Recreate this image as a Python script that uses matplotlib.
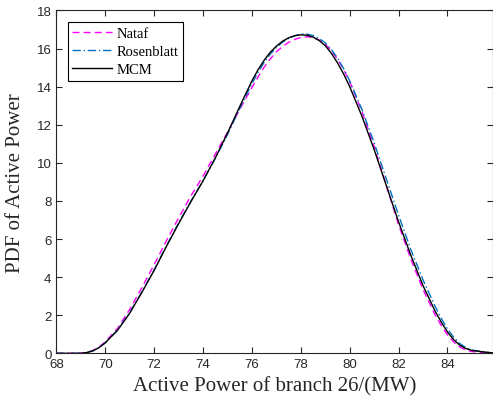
import matplotlib
matplotlib.use("Agg")
from matplotlib import pyplot as plt

# values
power_mw = [68.0, 68.5, 69.0, 69.25, 69.5, 69.75, 70.0, 70.5, 71.0, 71.5, 72.0, 72.5,
            73.0, 73.5, 74.0, 74.5, 75.0, 75.5, 76.0, 76.25, 76.5, 76.75, 77.0, 77.25,
            77.5, 77.75, 78.0, 78.25, 78.5, 78.75, 79.0, 79.25, 79.5, 79.75, 80.0, 80.5,
            81.0, 81.5, 82.0, 82.5, 83.0, 83.5, 83.75, 84.0, 84.25, 84.5, 84.75, 85.0,
            85.5, 85.85]

pdf_nataf = [0.0, 0.0, 0.01, 0.05, 0.15, 0.33, 0.6, 1.3, 2.3, 3.45, 4.65, 5.9,
             7.1, 8.25, 9.3, 10.45, 11.6, 12.8, 13.95, 14.5, 15.02, 15.45, 15.82, 16.1,
             16.32, 16.48, 16.58, 16.62, 16.58, 16.45, 16.22, 15.88, 15.45, 14.9, 14.25, 12.7,
             10.85, 8.8, 6.75, 4.95, 3.35, 2.0, 1.45, 0.97, 0.6, 0.33, 0.17, 0.09,
             0.04, 0.01]

pdf_rosenblatt = [0.0, 0.0, 0.0, 0.04, 0.13, 0.3, 0.55, 1.22, 2.13, 3.22, 4.38, 5.63,
                  6.83, 7.97, 9.05, 10.22, 11.48, 12.85, 14.15, 14.75, 15.27, 15.7, 16.05, 16.33,
                  16.53, 16.67, 16.75, 16.76, 16.68, 16.53, 16.3, 15.95, 15.5, 14.95, 14.3, 12.8,
                  11.05, 9.15, 7.25, 5.45, 3.85, 2.45, 1.83, 1.28, 0.85, 0.52, 0.3, 0.17,
                  0.07, 0.02]

pdf_mcm = [0.0, 0.0, 0.0, 0.04, 0.13, 0.3, 0.55, 1.2, 2.1, 3.2, 4.35, 5.6,
           6.8, 7.95, 9.05, 10.25, 11.55, 12.95, 14.3, 14.88, 15.38, 15.8, 16.12, 16.38,
           16.56, 16.67, 16.72, 16.7, 16.6, 16.42, 16.15, 15.75, 15.25, 14.67, 14.0, 12.45,
           10.7, 8.8, 6.9, 5.15, 3.55, 2.2, 1.63, 1.12, 0.72, 0.43, 0.25, 0.15,
           0.07, 0.02]

x_ticks = [68, 70, 72, 74, 76, 78, 80, 82, 84]
y_ticks = [0, 2, 4, 6, 8, 10, 12, 14, 16, 18]

serif = ["Liberation Serif", "DejaVu Serif"]
sans = ["Liberation Sans", "DejaVu Sans"]
axis_grey = "#262626"

fig = plt.figure(figsize=(4.93, 4.06), dpi=100)
ax = fig.add_axes([0.1142, 0.1273, 0.8852, 0.8446])

ax.plot(power_mw, pdf_nataf, color="#ff00ff", linestyle=(0, (5, 3)), linewidth=1.0, label="Nataf")
ax.plot(power_mw, pdf_rosenblatt, color="#0072bd", linestyle=(0, (6, 2, 1, 2)), linewidth=1.0,
        label="Rosenblatt")
ax.plot(power_mw, pdf_mcm, color="black", linestyle="-", linewidth=1.0, label="MCM")

ax.set_xlim(68, 85.85)
ax.set_ylim(0, 18)
ax.set_xticks(x_ticks)
ax.set_yticks(y_ticks)
ax.tick_params(direction="in", top=True, right=True, length=4, width=0.8,
               colors=axis_grey, labelsize=9.5)
for lab in ax.get_xticklabels() + ax.get_yticklabels():
    lab.set_family(sans)
for sp in ax.spines.values():
    sp.set_color(axis_grey)
    sp.set_linewidth(0.8)

ax.set_xlabel("Active Power of branch 26/(MW)", family=serif, fontsize=15, color=axis_grey, labelpad=4)
ax.set_ylabel("PDF of Active Power", family=serif, fontsize=15, color=axis_grey, labelpad=8)

leg = ax.legend(loc="upper left", prop={"family": serif, "size": 10.5}, fancybox=False,
                framealpha=1, edgecolor="black", borderpad=0.3, handlelength=2.7,
                handletextpad=0.35, labelspacing=0.35, borderaxespad=0.8)
leg.get_frame().set_linewidth(0.8)

fig.savefig("out.png", dpi=100)
